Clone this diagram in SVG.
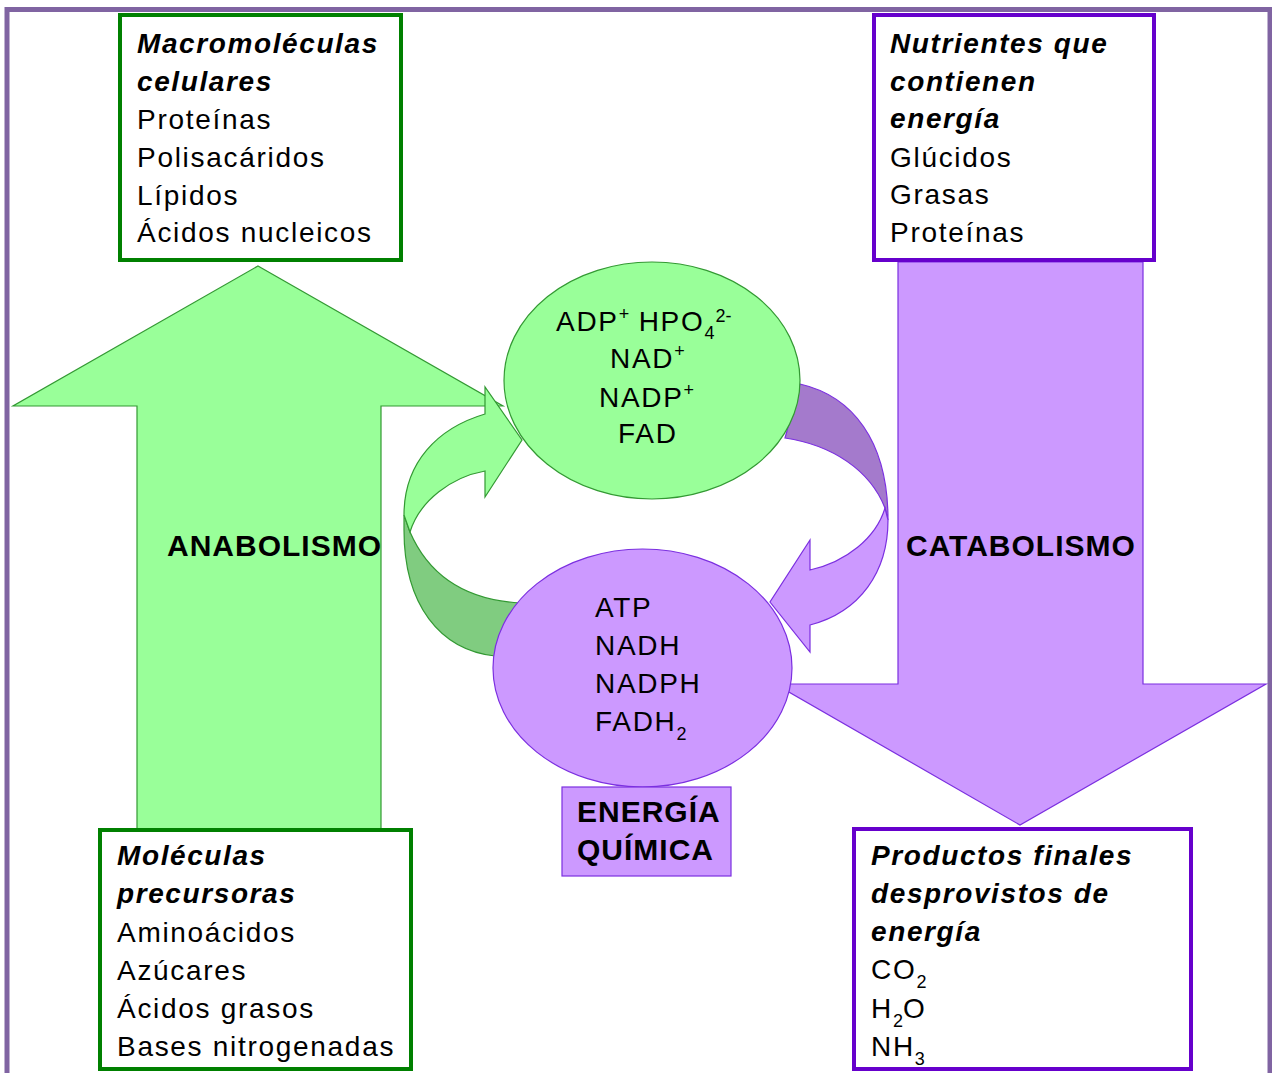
<svg xmlns="http://www.w3.org/2000/svg" width="1272" height="1073" viewBox="0 0 1272 1073">
<style>
.t{font-family:"Liberation Sans",Arial,sans-serif;font-size:28px;letter-spacing:1.7px;fill:#000}
.bi{font-weight:bold;font-style:italic;letter-spacing:1.6px}
.lbl{font-family:"Liberation Sans",Arial,sans-serif;font-weight:bold;font-size:30px;letter-spacing:1px;fill:#000}
.sm{font-size:18px;letter-spacing:0}
.gfill{fill:#99FF99;stroke:#339933;stroke-width:1.2}
.gdark{fill:#80CC80;stroke:#339933;stroke-width:1.2}
.pfill{fill:#CC99FF;stroke:#7B2FE0;stroke-width:1.2}
.pdark{fill:#A47ACC;stroke:#7B2FE0;stroke-width:1.2}
.gbox{fill:#fff;stroke:#008000;stroke-width:4}
.pbox{fill:#fff;stroke:#6600CC;stroke-width:4}
</style>
<rect x="7" y="9.5" width="1263" height="1100" fill="#fff" stroke="#8064A2" stroke-width="5"/>
<g id="connectors">
<path id="anabolismo-arrow" class="gfill" d="M258,266 L503,406 L381,406 L381,830 L137,830 L137,406 L13,406 Z"/>
<path id="catabolismo-arrow" class="pfill" d="M898,262 L1143,262 L1143,684 L1266,684 L1020,825 L775,684 L898,684 Z"/>
<path class="gdark" d="M404,515 L410,532 C430,578 468,600 520,603 L495,656 C440,650 404,605 404,530 Z"/>
<path class="gfill" d="M485,414 L485,387 L522,440 L485,497 L485,471 C452,477 420,500 410,532 L404,515 C404,462 438,428 485,414 Z"/>
<path class="pdark" d="M800,384 C852,396 888,440 888,520 L885,508 C870,470 832,445 785,438 Z"/>
<path class="pfill" d="M888,520 C888,572 860,612 810,625 L810,652 L770,602 L810,540 L810,570 C846,562 876,538 885,508 Z"/>
</g>
<g id="ellipse-oxidized">
<ellipse cx="652" cy="380.5" rx="148" ry="118.5" class="gfill"/>
<text class="t" x="556" y="331">ADP<tspan class="sm" dy="-11">+</tspan><tspan dy="11"> HPO</tspan><tspan class="sm" dy="8">4</tspan><tspan class="sm" dx="1" dy="-17">2-</tspan></text>
<text class="t" x="610" y="368">NAD<tspan class="sm" dy="-11">+</tspan></text>
<text class="t" x="599" y="407">NADP<tspan class="sm" dy="-11">+</tspan></text>
<text class="t" x="618" y="443">FAD</text>
</g>
<g id="ellipse-reduced">
<ellipse cx="642.5" cy="668" rx="149.5" ry="119" class="pfill"/>
<text class="t" x="595" y="617">ATP</text>
<text class="t" x="595" y="655">NADH</text>
<text class="t" x="595" y="693">NADPH</text>
<text class="t" x="595" y="731">FADH<tspan class="sm" dy="9">2</tspan></text>
</g>
<g id="energia-quimica">
<rect x="562" y="787" width="169" height="89" fill="#CC99FF" stroke="#7B2FE0" stroke-width="1.2"/>
<text class="lbl" x="577" y="822">ENERGÍA</text>
<text class="lbl" x="577" y="860">QUÍMICA</text>
</g>
<g id="label-anabolismo"><text class="lbl" x="167" y="556">ANABOLISMO</text></g>
<g id="label-catabolismo"><text class="lbl" x="906" y="556">CATABOLISMO</text></g>
<g id="box-macromoleculas">
<rect x="120" y="15" width="281" height="245" class="gbox"/>
<text class="t bi" x="137" y="53">Macromoléculas</text>
<text class="t bi" x="137" y="91">celulares</text>
<text class="t" x="137" y="129">Proteínas</text>
<text class="t" x="137" y="167">Polisacáridos</text>
<text class="t" x="137" y="205">Lípidos</text>
<text class="t" x="137" y="242">Ácidos nucleicos</text>
</g>
<g id="box-nutrientes">
<rect x="874" y="15" width="280" height="245" class="pbox"/>
<text class="t bi" x="890" y="53">Nutrientes que</text>
<text class="t bi" x="890" y="91">contienen</text>
<text class="t bi" x="890" y="128">energía</text>
<text class="t" x="890" y="167">Glúcidos</text>
<text class="t" x="890" y="204">Grasas</text>
<text class="t" x="890" y="242">Proteínas</text>
</g>
<g id="box-precursoras">
<rect x="100" y="830" width="311" height="239" class="gbox"/>
<text class="t bi" x="117" y="865">Moléculas</text>
<text class="t bi" x="117" y="903">precursoras</text>
<text class="t" x="117" y="942">Aminoácidos</text>
<text class="t" x="117" y="980">Azúcares</text>
<text class="t" x="117" y="1018">Ácidos grasos</text>
<text class="t" x="117" y="1056">Bases nitrogenadas</text>
</g>
<g id="box-productos">
<rect x="854" y="829" width="337" height="240" class="pbox"/>
<text class="t bi" x="871" y="865">Productos finales</text>
<text class="t bi" x="871" y="903">desprovistos de</text>
<text class="t bi" x="871" y="941">energía</text>
<text class="t" x="871" y="979">CO<tspan class="sm" dy="9">2</tspan></text>
<text class="t" x="871" y="1018">H<tspan class="sm" dy="9">2</tspan><tspan dy="-9">O</tspan></text>
<text class="t" x="871" y="1056">NH<tspan class="sm" dy="9">3</tspan></text>
</g>
</svg>
